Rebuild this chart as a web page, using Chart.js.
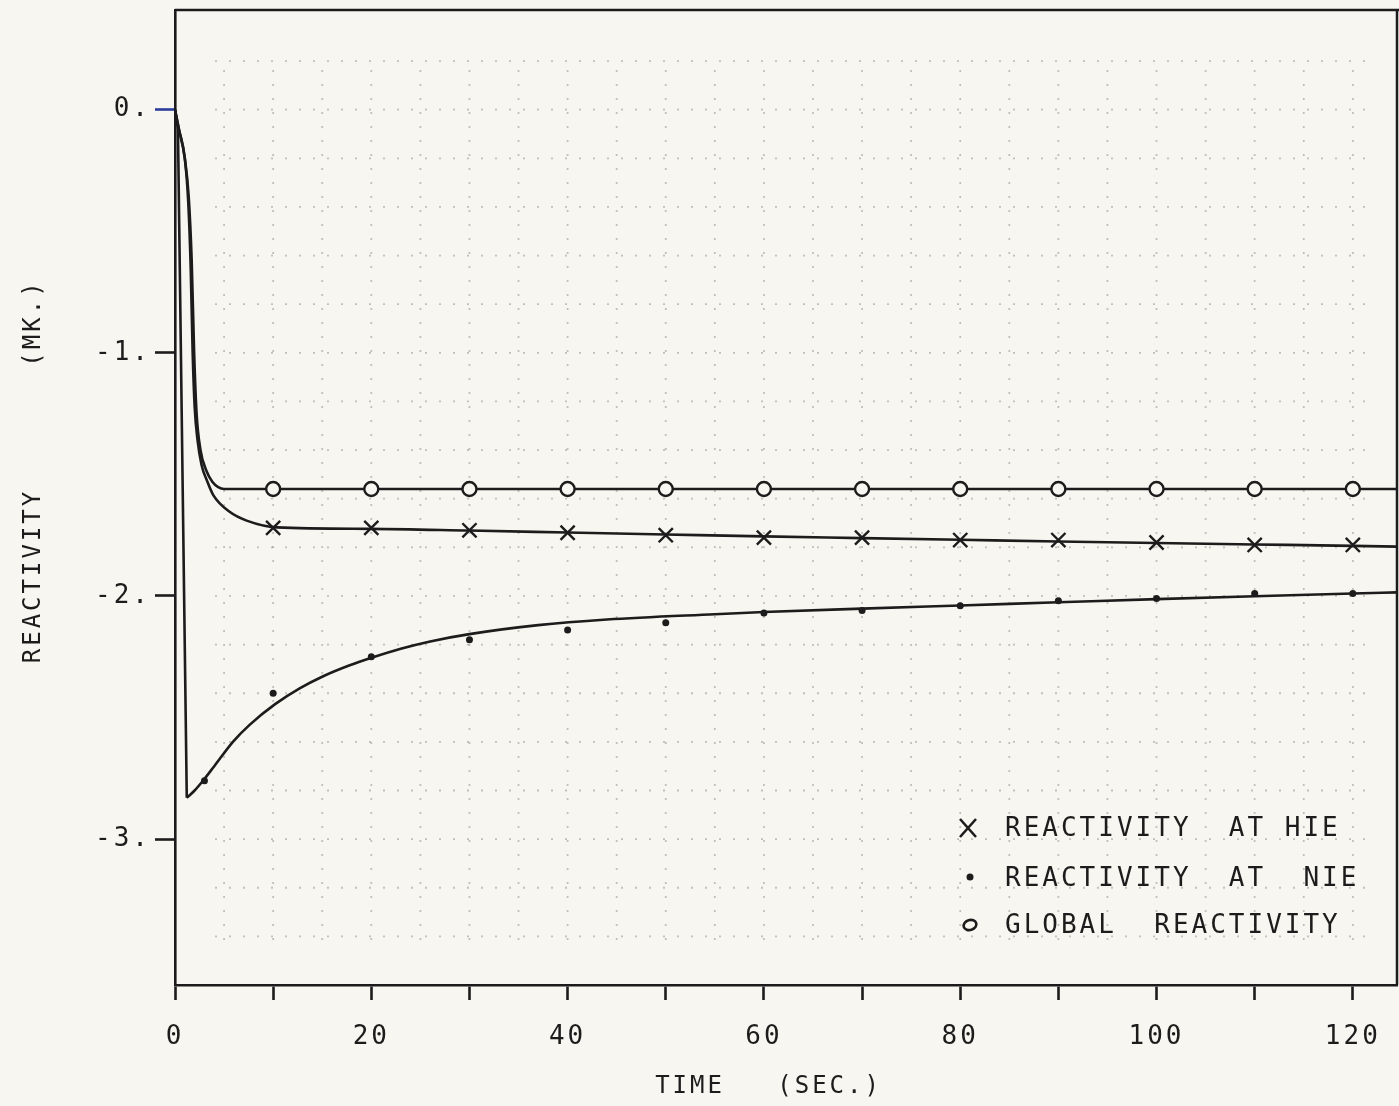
<!DOCTYPE html>
<html><head><meta charset="utf-8">
<script src="https://cdn.jsdelivr.net/npm/chart.js@4.4.1/dist/chart.umd.min.js"></script>
<style>html,body{margin:0;padding:0;background:#f7f6f0;overflow:hidden}#wrap{width:1399px;height:1106px}</style>
</head><body><div id="wrap"><canvas id="c" width="1399" height="1106"></canvas></div>
<script>
// ---- data ----
const markerTimes   = [10,20,30,40,50,60,70,80,90,100,110,120];
const hieMarkers    = [-1.72,-1.72,-1.73,-1.74,-1.75,-1.76,-1.76,-1.77,-1.77,-1.78,-1.79,-1.79];
const nieMarkerTimes= [3,10,20,30,40,50,60,70,80,90,100,110,120];
const nieMarkers    = [-2.76,-2.40,-2.25,-2.18,-2.14,-2.11,-2.07,-2.06,-2.04,-2.02,-2.01,-1.99,-1.99];
const globalMarkers = [-1.56,-1.56,-1.56,-1.56,-1.56,-1.56,-1.56,-1.56,-1.56,-1.56,-1.56,-1.56];

const hieCurveT    = [0,0.4,1.0,1.35,1.6,1.8,2.0,2.3,2.7,3.3,3.9,5.6,7.3,10.4,20,30,40,50,60,70,80,90,100,110,120,124.5];
const hieCurveV    = [0,-0.08,-0.2,-0.38,-0.65,-1.0,-1.22,-1.36,-1.46,-1.53,-1.585,-1.655,-1.69,-1.718,-1.724,-1.731,-1.739,-1.747,-1.755,-1.762,-1.769,-1.776,-1.782,-1.788,-1.794,-1.797];
const globalCurveT = [0,0.4,1.0,1.4,1.7,1.95,2.2,2.6,3.2,3.8,4.4,5.0,124.5];
const globalCurveV = [0,-0.08,-0.2,-0.36,-0.62,-1.0,-1.25,-1.40,-1.485,-1.53,-1.552,-1.56,-1.56];
const nieDropT     = [0,0.3,1.2];
const nieDropV     = [0,-0.08,-2.83];
const nieCurveT    = [1.2,2,2.85,4,5.9,7.6,10.2,12.7,15.1,17.8,20.1,23,26,30,37,44,55,60,70,80,90,100,110,120,124.5];
const nieCurveV    = [-2.83,-2.80,-2.76,-2.70,-2.60,-2.53,-2.445,-2.38,-2.33,-2.285,-2.253,-2.217,-2.187,-2.157,-2.12,-2.097,-2.075,-2.066,-2.052,-2.039,-2.026,-2.013,-2.001,-1.99,-1.985];

const xTickValues = [0,10,20,30,40,50,60,70,80,90,100,110,120];
const xLabelStep  = 20;
const yTickValues = [-3,-2,-1,0];
const yTickLabels = {"0":"0.","-1":"-1.","-2":"-2.","-3":"-3."};
const legendLabels = ["REACTIVITY  AT HIE","REACTIVITY  AT  NIE","GLOBAL  REACTIVITY"];

// ---- drawing ----
const INK = '#1c1c1c';
const PAPER = '#f7f6f0';
const FONT = '"DejaVu Sans Mono"';
const pts = (t, v) => t.map((x, i) => ({x, y: v[i]}));

const paperBg = {
  id: 'paperBg',
  beforeDraw(chart) {
    const c = chart.ctx;
    c.save(); c.fillStyle = PAPER; c.fillRect(0, 0, chart.width, chart.height); c.restore();
    c.letterSpacing = '3px';
  }
};
const faintGrid = {
  id: 'faintGrid',
  beforeDatasetsDraw(chart) {
    const c = chart.ctx, xs = chart.scales.x, ys = chart.scales.y, a = chart.chartArea;
    c.save();
    c.strokeStyle = 'rgba(70,70,70,0.3)'; c.lineWidth = 1.8; c.setLineDash([2, 12]);
    for (let t = 5; t <= 120; t += 5) {
      const px = xs.getPixelForValue(t);
      c.beginPath(); c.moveTo(px, a.top + 60); c.lineTo(px, a.bottom - 40); c.stroke();
    }
    for (let k = -17; k <= 1; k++) {
      const py = ys.getPixelForValue(k * 0.2);
      c.beginPath(); c.moveTo(a.left + 40, py); c.lineTo(a.right - 30, py); c.stroke();
    }
    c.restore();
  }
};
const frame = {
  id: 'frame',
  afterDatasetsDraw(chart) {
    const c = chart.ctx, a = chart.chartArea;
    c.save(); c.strokeStyle = INK; c.lineWidth = 2.5;
    c.beginPath(); c.moveTo(a.left, a.top); c.lineTo(chart.width, a.top);
    c.moveTo(a.right, a.top); c.lineTo(a.right, a.bottom); c.stroke();
    c.restore();
  }
};
const legendBox = {
  id: 'legendBox',
  afterDatasetsDraw(chart) {
    const c = chart.ctx;
    const rows = [{y: 828, style: 'x'}, {y: 878, style: 'dot'}, {y: 925, style: 'o'}];
    c.save();
    c.fillStyle = INK; c.strokeStyle = INK; c.lineWidth = 2.6;
    c.font = '26px ' + FONT; c.textBaseline = 'middle'; c.textAlign = 'left';
    c.letterSpacing = '3px';
    rows.forEach((r, i) => {
      const mx = 968;
      if (r.style === 'x') {
        c.beginPath(); c.moveTo(mx - 8, r.y - 9); c.lineTo(mx + 8, r.y + 9);
        c.moveTo(mx + 8, r.y - 9); c.lineTo(mx - 8, r.y + 9); c.stroke();
      } else if (r.style === 'dot') {
        c.beginPath(); c.arc(mx + 2, r.y - 1, 3.5, 0, Math.PI * 2); c.fill();
      } else {
        c.beginPath(); c.ellipse(mx + 2, r.y, 6.5, 5, -0.3, 0, Math.PI * 2); c.stroke();
      }
      c.fillText(legendLabels[i], 1005, r.y + 1);
    });
    c.restore();
  }
};

const lineDs = (label, data) => ({
  label, data, showLine: true, pointRadius: 0, borderColor: INK, borderWidth: 2.6,
  cubicInterpolationMode: 'monotone', fill: false, order: 2
});

new Chart(document.getElementById('c'), {
  type: 'scatter',
  data: {
    datasets: [
      lineDs('HIE curve', pts(hieCurveT, hieCurveV)),
      lineDs('Global curve', pts(globalCurveT, globalCurveV)),
      Object.assign(lineDs('NIE drop', pts(nieDropT, nieDropV)), {cubicInterpolationMode: 'default', tension: 0}),
      lineDs('NIE curve', pts(nieCurveT, nieCurveV)),
      {label: 'REACTIVITY AT HIE', data: pts(markerTimes, hieMarkers), pointStyle: 'crossRot',
       pointRadius: 10, borderColor: INK, borderWidth: 2.4, showLine: false, order: 1},
      {label: 'REACTIVITY AT NIE', data: pts(nieMarkerTimes, nieMarkers), pointStyle: 'circle',
       pointRadius: 3.5, backgroundColor: INK, borderColor: INK, borderWidth: 0, showLine: false, order: 1},
      {label: 'GLOBAL REACTIVITY', data: pts(markerTimes, globalMarkers), pointStyle: 'circle',
       pointRadius: 7, backgroundColor: PAPER, borderColor: INK, borderWidth: 2.4, showLine: false, order: 1}
    ]
  },
  options: {
    responsive: false, animation: false, devicePixelRatio: 1,
    layout: {autoPadding: false, padding: {top: 10, right: 2, left: 0, bottom: 0}},
    plugins: {legend: {display: false}, tooltip: {enabled: false}},
    scales: {
      x: {
        type: 'linear', min: 0, max: 124.5,
        afterFit: s => { s.height = 121; s.paddingLeft = 0; s.paddingRight = 0; },
        afterBuildTicks: s => { s.ticks = xTickValues.map(v => ({value: v})); },
        ticks: {autoSkip: false, maxRotation: 0, color: INK, padding: 22,
                font: {family: FONT, size: 26},
                callback: v => (v % xLabelStep === 0 ? String(v) : '')},
        grid: {drawOnChartArea: false, drawTicks: true, tickLength: 15, tickWidth: 2.6, tickColor: INK},
        border: {display: true, color: INK, width: 2.6},
        title: {display: true, text: 'TIME   (SEC.)  ', color: INK,
                font: {family: FONT, size: 24}, padding: {top: 0, bottom: 5}}
      },
      y: {
        type: 'linear', min: -3.6, max: 0.41,
        afterFit: s => { s.width = 175; s.paddingTop = 0; s.paddingBottom = 0; },
        afterBuildTicks: s => { s.ticks = yTickValues.map(v => ({value: v})); },
        ticks: {autoSkip: false, color: INK, padding: 4,
                font: {family: FONT, size: 26},
                callback: v => yTickLabels[String(v)] ?? ''},
        grid: {drawOnChartArea: false, drawTicks: true, tickLength: 20, tickWidth: 2.6,
               tickColor: ctx => (ctx.tick && ctx.tick.value === 0 ? '#2b3c9c' : INK)},
        border: {display: true, color: INK, width: 2.6},
        title: {display: true, text: '   REACTIVITY       (MK.)', color: INK,
                font: {family: FONT, size: 24}, padding: {top: 19, bottom: 0}}
      }
    }
  },
  plugins: [paperBg, faintGrid, frame, legendBox]
});
</script></body></html>
